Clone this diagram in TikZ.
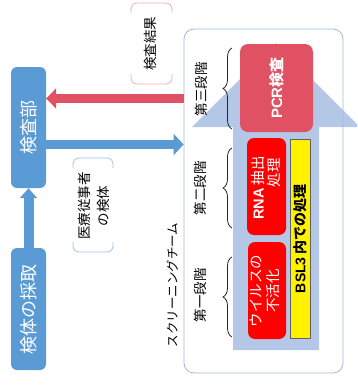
\documentclass[tikz,border=0pt]{standalone}
\usepackage{fontspec}
\setmainfont{Noto Sans CJK JP}
\newfontfamily\lat{Liberation Sans}
\usetikzlibrary{arrows.meta,decorations.pathreplacing}
\definecolor{boxblue}{RGB}{91,155,213}
\definecolor{pcrred}{RGB}{224,82,99}
\definecolor{bigarrow}{RGB}{180,199,231}
\definecolor{teamline}{RGB}{165,185,215}
\definecolor{brred}{RGB}{244,170,175}
\definecolor{brblue}{RGB}{160,196,230}
\definecolor{bslgray}{RGB}{96,96,96}
\tikzset{
 bluebox/.style={fill=boxblue, rounded corners=6pt, inner sep=0pt},
 redbox/.style={fill=red, rounded corners=7pt, inner sep=0pt},
 vtext/.style={rotate=90, inner sep=0pt},
 whitetext/.style={vtext, text=white},
 stagelabel/.style={vtext, font=\fontsize{13.5}{16}\selectfont},
 stagebrace/.style={draw=black!85, line width=0.8pt, decorate, decoration={brace, amplitude=9pt}},
 bracket/.style={line width=0.8pt, rounded corners=6pt},
 fatarrow/.style={line width=9pt},
}
\begin{document}
\begin{tikzpicture}[x=1pt,y=-1pt]
\useasboundingbox (0,0) rectangle (357,386);
\begin{scope}
\clip (0,0) rectangle (357,386);
\fill[bigarrow] (233,350) -- (233,127) -- (192,127) -- (276,43) -- (360,127) -- (319,127) -- (319,350) -- cycle;
\end{scope}
\node[draw=teamline, line width=0.8pt, rounded corners=10pt, minimum width=159pt, minimum height=344pt, inner sep=0pt] (team) at (263.5,201) {};

\node[fill=pcrred, rounded corners=8pt, minimum width=73pt, minimum height=88pt, inner sep=0pt] (pcr) at (276.5,88) {};
\node[whitetext, font=\bfseries\fontsize{15}{18}\selectfont] (pcrtext) at (pcr) {{\lat PCR}検査};

\node[redbox, minimum width=39pt, minimum height=97pt] (rna) at (266.5,186.5) {};
\node[whitetext, font=\fontsize{14.5}{17}\selectfont] (rna1) at (258,188) {{\lat\bfseries RNA} 抽出};
\node[whitetext, font=\fontsize{14.5}{17}\selectfont] (rna2) at (274,172.5) {処理};

\node[redbox, minimum width=38pt, minimum height=97pt] (virus) at (267,290.5) {};
\node[whitetext, align=center, font=\fontsize{14.5}{17.5}\selectfont] (virustext) at (265,291) {ウイルスの\\不活化};

\node[fill=yellow, draw=bslgray, line width=0.8pt, minimum width=20pt, minimum height=199pt, inner sep=0pt] (bsl) at (300,238.5) {};
\node[vtext, font=\bfseries\fontsize{14}{16}\selectfont] (bsltext) at (bsl) {{\lat BSL3} 内での処理};

\draw[stagebrace] (232,129) -- (232,48);
\draw[stagebrace] (232,228) -- (232,148);
\draw[stagebrace] (232,337) -- (232,257);
\node[stagelabel] (st3) at (201,89) {第三段階};
\node[stagelabel] (st2) at (200,188) {第二段階};
\node[stagelabel] (st1) at (200,295) {第一段階};

\node[vtext, font=\fontsize{12.5}{15}\selectfont] (teamlabel) at (172.5,285) {スクリーニングチーム};

\node[bluebox, minimum width=35pt, minimum height=121pt] (lab) at (28.5,127.5) {};
\node[whitetext, font=\fontsize{18}{20}\selectfont] (labtext) at (lab) {検査部};
\node[bluebox, minimum width=35pt, minimum height=122pt] (sample) at (28.5,309) {};
\node[whitetext, font=\fontsize{18}{20}\selectfont] (sampletext) at (sample) {検体の採取};

\draw[boxblue, line width=10pt, -{Triangle[length=10pt,width=17pt]}] (sample.north) -- (lab.south);
\coordinate (redy) at (0,98.5);
\coordinate (bluey) at (0,144.5);
\draw[pcrred, fatarrow, -{Triangle[length=10pt,width=20pt]}] (team.west |- redy) -- (lab.east |- redy);
\draw[boxblue, fatarrow, -{Triangle[length=10pt,width=21pt]}] (lab.east |- bluey) -- (team.west |- bluey);

\node[vtext, font=\fontsize{13.5}{16}\selectfont] (result) at (150,43.5) {検査結果};
\draw[brred, bracket] (131,13) -- (131,3) -- (172,3) -- (172,13);
\draw[brred, bracket] (131,74) -- (131,84) -- (172,84) -- (172,74);
\node[vtext, align=center, font=\fontsize{13.5}{19}\selectfont] (staff) at (93.5,206) {医療従事者\\の検体};
\draw[brblue, bracket] (73,168) -- (73,158) -- (113,158) -- (113,168);
\draw[brblue, bracket] (73,242) -- (73,252) -- (113,252) -- (113,242);
\end{tikzpicture}
\end{document}
